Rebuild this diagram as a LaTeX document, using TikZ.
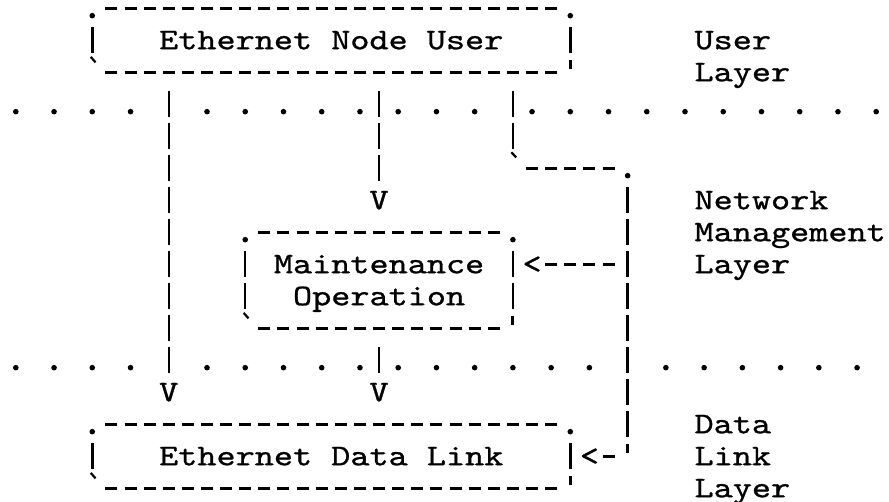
\documentclass[tikz,border=0pt]{standalone}
\usepackage{fontspec}
\usepackage{tikz}
\newfontfamily\asciifont{lmmono10-regular.otf}[FakeStretch=1.214, FakeBold=0.9]

\tikzset{
  txt/.style={inner sep=0pt, outer sep=0pt, anchor=base, font=\asciifont\fontsize{15}{16}\selectfont},
  lbl/.style={txt, anchor=base west},
  hdash/.style={line width=1.3pt, dash pattern=on 6pt off 3.56pt, shorten <=6.56pt, shorten >=6.56pt},
  vbar/.style={line width=1.25pt, dash pattern=on 13pt off 3pt, shorten <=9.5pt, shorten >=9.5pt},
  tov/.style={vbar, shorten >=4.8pt},
  asciibox/.style={rectangle, inner sep=0pt, outer sep=0pt, draw=none},
  tick/.style={line width=1.1pt},
  apos/.style={line width=1.5pt},
}

\newcommand\asciiframe[1]{%
  \draw[hdash] (#1.north west) -- (#1.north east);
  \draw[hdash] (#1.south west) -- (#1.south east);
  \draw[vbar] (#1.north west) -- (#1.south west);
  \draw[vbar] (#1.north east) -- (#1.south east);
  \fill ([yshift=-3.7pt]#1.north west) circle (1.4pt);
  \fill ([yshift=-3.7pt]#1.north east) circle (1.4pt);
  \draw[tick] ([shift={(-0.08,-0.48)}]#1.south west) -- ([shift={(0.17,-0.31)}]#1.south west);
  \draw[apos] ([shift={(0,-0.39)}]#1.south east) -- ([shift={(0,-0.1)}]#1.south east);
}

\begin{document}
\begin{tikzpicture}[x=9.56pt, y=-16pt]
\useasboundingbox (-0.8264,-0.259) rectangle (45.669,15.428);

% boxes
\node[asciibox, minimum width={25*9.56pt}, minimum height=32pt] (user) at (16.5,1) {};
\node[asciibox, minimum width={14*9.56pt}, minimum height=48pt] (maint) at (19,8.5) {};
\node[asciibox, minimum width={25*9.56pt}, minimum height=32pt] (dlink) at (16.5,14) {};
\asciiframe{user}
\asciiframe{maint}
\asciiframe{dlink}
\node[txt] (usertxt) at (16.5,1.28) {Ethernet Node User};
\node[txt] (mainttxt) at (19,8.28) {Maintenance};
\node[txt] (opertxt) at (19,9.28) {Operation};
\node[txt] (dlinktxt) at (16.5,14.28) {Ethernet Data Link};

% layer borders
\foreach \c in {0,2,...,6,10,12,...,24,27,29,...,45}
  \fill (\c,3.231) circle (1.4pt);
\foreach \c in {0,2,...,6,10,12,...,30,34,36,...,44}
  \fill (\c,11.231) circle (1.4pt);

% layer names
\node[lbl] (lu1) at (35.5,1.28) {User};
\node[lbl] (lu2) at (35.5,2.28) {Layer};
\node[lbl] (ln1) at (35.5,6.28) {Network};
\node[lbl] (ln2) at (35.5,7.28) {Management};
\node[lbl] (ln3) at (35.5,8.28) {Layer};
\node[lbl] (ld1) at (35.5,13.28) {Data};
\node[lbl] (ld2) at (35.5,14.28) {Link};
\node[lbl] (ld3) at (35.5,15.28) {Layer};

% arrow heads
\node[txt] (v1) at (8,12.28) {V};
\node[txt] (v2) at (19,6.28) {V};
\node[txt] (v3) at (19,12.28) {V};
\node[txt] (a1) at (27,8.28) {<};
\node[txt] (a2) at (30,14.28) {<};

% straight down
\draw[tov] (user.south -| v1) -- (v1);
\draw[tov] (user.south -| v2) -- (v2);
\draw[tov] (maint.south -| v3) -- (v3);

% side path
\coordinate (t1) at (26,5);
\coordinate (t2) at (32,5);
\coordinate (t3) at (32,14);
\coordinate (t4) at (32,8);
\draw[vbar] (user.south -| t1) -- (t1);
\draw[tick] ([shift={(-0.08,-0.5)}]t1) -- ([shift={(0.17,-0.34)}]t1);
\draw[hdash] (t1) -- (t2);
\fill ([yshift=-3.7pt]t2) circle (1.4pt);
\draw[vbar] (t2) -- (t3);
\draw[apos] ([shift={(0,-0.39)}]t3) -- ([shift={(0,-0.1)}]t3);
\draw[hdash] (t3) -- (a2 |- t3);
\draw[hdash] (t4) -- (a1 |- t4);

\end{tikzpicture}
\end{document}
